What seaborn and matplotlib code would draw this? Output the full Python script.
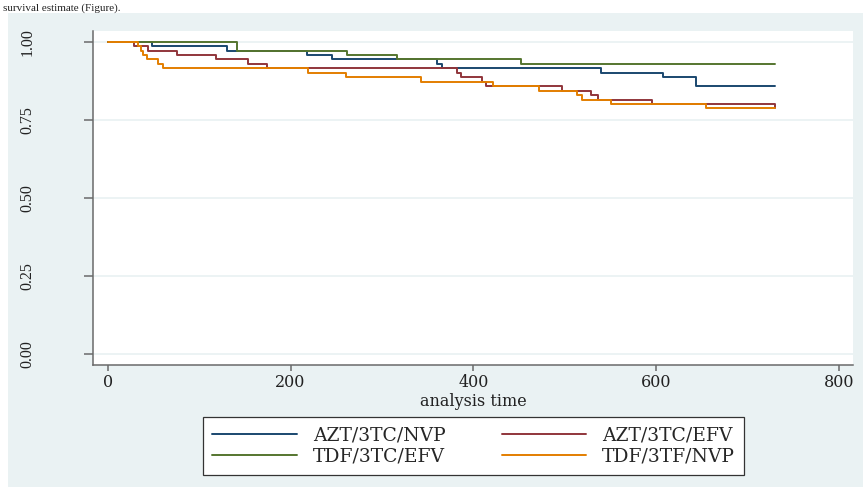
import matplotlib
matplotlib.use("Agg")
import matplotlib.pyplot as plt
from matplotlib.patches import Rectangle
import pandas as pd
import seaborn as sns

# Kaplan-Meier survival by ART regimen
regimens = ["AZT/3TC/NVP", "AZT/3TC/EFV", "TDF/3TC/EFV", "TDF/3TF/NVP"]
colors = ["#1a476f", "#90353b", "#55752f", "#e37e00"]

azt_nvp_time = [0, 48, 130, 218, 245, 360, 366, 540, 607, 643, 730]
azt_nvp_surv = [1.000, 0.986, 0.971, 0.957, 0.943, 0.929, 0.914, 0.900, 0.886, 0.857, 0.857]

azt_efv_time = [0, 29, 44, 76, 118, 153, 174, 382, 386, 409, 414, 497, 529, 536, 595, 730]
azt_efv_surv = [1.000, 0.986, 0.971, 0.957, 0.943, 0.929, 0.914, 0.900, 0.886, 0.871,
                0.857, 0.843, 0.829, 0.814, 0.800, 0.786]

tdf_efv_time = [0, 141, 262, 316, 452, 730]
tdf_efv_surv = [1.000, 0.971, 0.957, 0.943, 0.929, 0.929]

tdf_nvp_time = [0, 33, 36, 39, 43, 55, 60, 219, 261, 343, 421, 472, 513, 519, 550, 654, 730]
tdf_nvp_surv = [1.000, 0.986, 0.971, 0.957, 0.943, 0.929, 0.914, 0.900, 0.886, 0.871,
                0.857, 0.843, 0.829, 0.814, 0.800, 0.786, 0.786]

x_ticks = [0, 200, 400, 600, 800]
y_ticks = [0.00, 0.25, 0.50, 0.75, 1.00]

BG = "#eaf2f3"
AXIS = "#6a6a6a"


def main():
    series = [
        (azt_nvp_time, azt_nvp_surv),
        (azt_efv_time, azt_efv_surv),
        (tdf_efv_time, tdf_efv_surv),
        (tdf_nvp_time, tdf_nvp_surv),
    ]
    frames = []
    for name, (t, s) in zip(regimens, series):
        frames.append(pd.DataFrame({"time": t, "survival": s, "regimen": name}))
    df = pd.concat(frames, ignore_index=True)

    sns.set_style("white")
    plt.rcParams["font.family"] = ["DejaVu Serif"]

    fig = plt.figure(figsize=(8.63, 4.87), dpi=100, facecolor=BG)
    ax = fig.add_axes([0.1081, 0.2515, 0.8803, 0.6848])
    ax.set_facecolor("white")

    # white page margin around the graph region
    fig.patches.append(Rectangle((0, 1 - 13 / 487), 1, 13 / 487, transform=fig.transFigure,
                                 facecolor="white", edgecolor="none", zorder=-1))
    fig.patches.append(Rectangle((0, 0), 8 / 863, 1, transform=fig.transFigure,
                                 facecolor="white", edgecolor="none", zorder=-1))
    fig.text(3 / 863, 1 - 11 / 487, "survival estimate (Figure).", ha="left", va="baseline",
             fontsize=8, color="#222222", family=["Liberation Serif"])

    for yv in y_ticks:
        ax.axhline(yv, color=BG, linewidth=1.3, zorder=0)

    sns.lineplot(data=df, x="time", y="survival", hue="regimen", hue_order=regimens,
                 palette=colors, estimator=None, drawstyle="steps-post", linewidth=1.4, ax=ax)

    ax.set_xlim(-15.7, 815)
    ax.set_ylim(-0.035, 1.034)
    ax.set_xticks(x_ticks)
    ax.set_yticks(y_ticks)
    ax.set_yticklabels([f"{v:.2f}" for v in y_ticks])

    for side in ["top", "right"]:
        ax.spines[side].set_visible(False)
    for side in ["left", "bottom"]:
        ax.spines[side].set_color(AXIS)
        ax.spines[side].set_linewidth(1.1)

    ax.tick_params(axis="x", length=4, width=1.1, color=AXIS, pad=3, labelsize=11.5,
                   labelcolor="#222222", bottom=True)
    ax.tick_params(axis="y", length=6.5, width=1.1, color=AXIS, pad=35, labelsize=11.5,
                   labelcolor="#222222", left=True)
    for lbl in ax.get_yticklabels():
        lbl.set_rotation(90)
        lbl.set_va("center")
        lbl.set_family("Liberation Serif")

    ax.set_xlabel("analysis time", fontsize=11.5, color="#222222", labelpad=1)
    ax.set_ylabel("")

    handles, labels = ax.get_legend_handles_labels()
    ax.get_legend().remove()
    order = [0, 2, 1, 3]
    leg = fig.legend([handles[i] for i in order], [labels[i] for i in order],
                     ncol=2, loc="center", bbox_to_anchor=(0.5487, 0.0842),
                     frameon=True, fancybox=False, edgecolor="#333333", facecolor="white",
                     framealpha=1, fontsize=13.5, handlelength=4.5, handletextpad=0.85,
                     columnspacing=3.0, labelspacing=0.15, borderpad=0.5)
    leg.get_frame().set_linewidth(0.9)

    fig.savefig("out.png", dpi=100, facecolor=BG)


if __name__ == "__main__":
    main()
